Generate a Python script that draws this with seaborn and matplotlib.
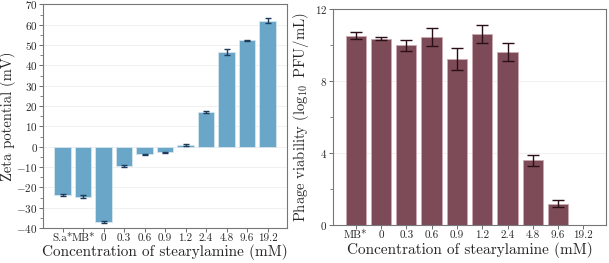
import numpy as np
import pandas as pd
import seaborn as sns
import matplotlib.pyplot as plt
from matplotlib.ticker import MultipleLocator

sns.set_style('white')
plt.rcParams['font.family'] = ['cmr10', 'DejaVu Serif']
plt.rcParams['mathtext.fontset'] = 'cm'
plt.rcParams['axes.formatter.use_mathtext'] = True

# zeta potential
zeta_labels = ['S.a*', 'MB*', '0', '0.3', '0.6', '0.9', '1.2', '2.4', '4.8', '9.6', '19.2']
zeta_vals = [-23.8, -24.5, -37.0, -9.5, -3.7, -2.7, 1.0, 17.2, 46.5, 52.3, 62.0]
zeta_err = [0.3, 0.6, 0.3, 0.3, 0.3, 0.3, 0.4, 0.4, 1.5, 0.3, 1.3]

# phage viability
phage_labels = ['MB*', '0', '0.3', '0.6', '0.9', '1.2', '2.4', '4.8', '9.6', '19.2']
phage_vals = [10.52, 10.37, 10.0, 10.46, 9.22, 10.6, 9.63, 3.61, 1.18, 0.0]
phage_err = [0.2, 0.08, 0.3, 0.5, 0.6, 0.5, 0.5, 0.3, 0.2, 0.0]

fig = plt.figure(figsize=(6.09, 2.63), dpi=100)
ax1 = fig.add_axes([0.071, 0.133, 0.400, 0.85])
ax2 = fig.add_axes([0.547, 0.144, 0.448, 0.821])

df1 = pd.DataFrame({'conc': zeta_labels, 'val': zeta_vals})
sns.barplot(data=df1, x='conc', y='val', color='#6aa6c8', saturation=1,
            edgecolor='#d6e6ee', linewidth=0.6, ax=ax1)
ax1.errorbar(np.arange(len(zeta_vals)), zeta_vals, yerr=zeta_err, fmt='none',
             ecolor='#1d3c5c', elinewidth=1.0, capsize=2.5, capthick=1.0)
ax1.set_ylim(-40, 70)
ax1.yaxis.set_major_locator(MultipleLocator(10))
ax1.yaxis.set_minor_locator(MultipleLocator(5))
ax1.set_ylabel('Zeta potential (mV)', fontsize=10.5, labelpad=0)
ax1.set_xlabel('Concentration of stearylamine (mM)', fontsize=11, labelpad=1)

df2 = pd.DataFrame({'conc': phage_labels, 'val': phage_vals})
sns.barplot(data=df2, x='conc', y='val', color='#7d4b57', saturation=1,
            edgecolor='#c9aab0', linewidth=0.6, ax=ax2)
ax2.errorbar(np.arange(len(phage_vals))[:-1], phage_vals[:-1], yerr=phage_err[:-1],
             fmt='none', ecolor='#2a0f16', elinewidth=1.0, capsize=4, capthick=1.0)
ax2.set_ylim(0, 12)
ax2.yaxis.set_major_locator(MultipleLocator(4))
ax2.yaxis.set_minor_locator(MultipleLocator(2))
ax2.set_ylabel(r'Phage viability ($\log_{10}$ PFU/mL)', fontsize=10.5, labelpad=3)
ax2.set_xlabel('Concentration of stearylamine (mM)', fontsize=11, labelpad=1)

for ax in (ax1, ax2):
    ax.grid(axis='y', which='major', color='#eeeeee', linewidth=0.6)
    ax.set_axisbelow(True)
    for s in ax.spines.values():
        s.set_color('#777777')
        s.set_linewidth(0.8)
    ax.tick_params(axis='y', which='major', left=True, length=3, width=0.6,
                   color='#555555', labelsize=8, pad=1)
    ax.tick_params(axis='y', which='minor', left=True, length=2, width=0.5,
                   color='#555555')
    ax.tick_params(axis='x', bottom=True, length=3, width=0.6, color='#555555',
                   labelsize=8, pad=1)

fig.savefig('out.png', dpi=100)
